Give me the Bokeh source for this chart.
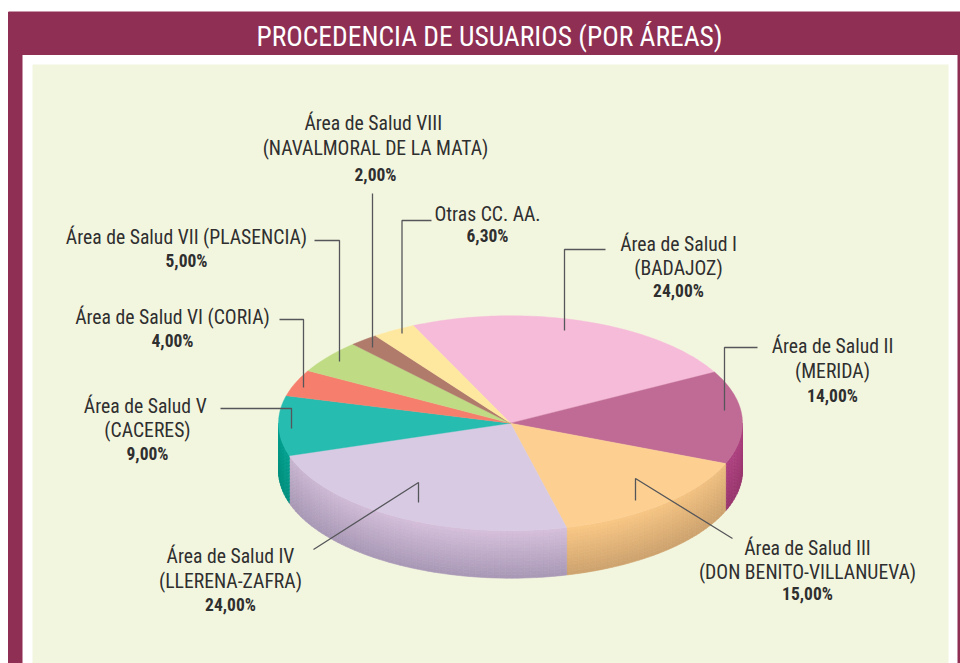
import numpy as np
from bokeh.plotting import figure
from bokeh.embed import file_html
from bokeh.resources import INLINE
from bokeh.models import Range1d

# ---- data ----
title = "PROCEDENCIA DE USUARIOS (POR ÁREAS)"
slices = ["Área I", "Área II", "Área III", "Área IV", "Área V", "Área VI", "Área VII", "Área VIII", "Otras"]
# angular share each slice occupies in the drawing, percent
shares = [24, 14, 15, 24, 9, 4, 5, 2, 3]
top_colors = ["#f6bbd8", "#c06b95", "#fdd092", "#d9cae4", "#27bcb0", "#f67e6c", "#bfdc85", "#b17b6c", "#fee8a0"]
wall_top = ["#f6bbd8", "#b8488a", "#fbc986", "#d6c0dc", "#03a899", "#f67e6c", "#bfdc85", "#b17b6c", "#fee8a0"]
wall_bottom = ["#f6bbd8", "#99366e", "#cda26e", "#a898b6", "#00917f", "#f67e6c", "#bfdc85", "#b17b6c", "#fee8a0"]

label_lines = [
    ["Área de Salud I", "(BADAJOZ)", "24,00%"],
    ["Área de Salud II", "(MERIDA)", "14,00%"],
    ["Área de Salud III", "(DON BENITO-VILLANUEVA)", "15,00%"],
    ["Área de Salud IV", "(LLERENA-ZAFRA)", "24,00%"],
    ["Área de Salud  V", "(CACERES)", "9,00%"],
    ["Área de Salud VI (CORIA)", "4,00%"],
    ["Área de Salud VII (PLASENCIA)", "5,00%"],
    ["Área de Salud  VIII", "(NAVALMORAL DE LA MATA)", "2,00%"],
    ["Otras CC. AA.", "6,30%"],
]

# ---- layout (in page pixels) ----
W, H = 960, 663
CX, CY, RX, RY, DEPTH = 510, 422.7, 232, 107.5, 47.5
START = 114.8

label_x = [678, 832, 807, 230, 147, 172, 186, 375, 487]
label_y = [
    [244, 268, 290],
    [346, 371, 395],
    [548, 572, 593],
    [556, 581, 604],
    [406, 430, 453],
    [317, 340],
    [237, 260],
    [123, 148, 174],
    [214, 235],
]
leaders = [
    ([605, 564, 564], [249, 249, 330]),
    ([757, 724, 724], [347, 347, 410]),
    ([732, 635, 635], [538, 478, 500]),
    ([313, 418, 418], [549, 482, 502]),
    ([220, 291, 291], [408, 408, 428]),
    ([279, 303, 303], [319, 319, 387]),
    ([314, 339, 339], [240, 240, 361]),
    ([372, 372], [193, 347]),
    ([431, 401.5, 401.5], [220, 220, 333]),
]

p = figure(width=W, height=H, output_backend="svg", toolbar_location=None,
           x_range=Range1d(0, W), y_range=Range1d(H, 0),
           min_border=0, outline_line_color=None, background_fill_color="white",
           border_fill_color="white")
p.axis.visible = False
p.grid.visible = False

FONT = "Roboto Condensed, Roboto"

# frame
MAROON = "#8e2f53"
p.quad(left=8, right=960, top=11.5, bottom=54, color=MAROON)
p.quad(left=8, right=21.5, top=54, bottom=663, color=MAROON)
p.quad(left=957.5, right=960, top=54, bottom=663, color=MAROON)
p.quad(left=32, right=948, top=64, bottom=663, fill_color="#f3f6df", fill_alpha=1.0, line_color=None)
p.text(x=[489], y=[36], text=[title], text_color="white", text_font_size="27.5px",
       text_align="center", text_baseline="middle", text_font={"value": FONT})

def hex2rgb(c):
    return np.array([int(c[i:i + 2], 16) for i in (1, 3, 5)], float)

def ex(t):
    return CX + RX * np.cos(np.radians(t))

def ey(t):
    return CY - RY * np.sin(np.radians(t))

fr = np.cumsum([0] + shares) / sum(shares)
bounds = START - 360 * fr

# side wall: small cells to carry the shading
xs, ys, cs = [], [], []
ROWS = 14
for i in range(len(shares)):
    a0, a1 = bounds[i], bounds[i + 1]
    lo, hi = max(a1, -180), min(a0, 0)
    if lo >= hi:
        continue
    n = max(2, int((hi - lo) / 1.5))
    ts = np.linspace(hi, lo, n + 1)
    ct, cb = hex2rgb(wall_top[i]), hex2rgb(wall_bottom[i])
    for j in range(n):
        tm = 0.5 * (ts[j] + ts[j + 1])
        edge = abs(np.cos(np.radians(tm))) ** 3
        for r in range(ROWS):
            d0, d1 = r / ROWS, (r + 1) / ROWS
            col = ct + (cb - ct) * ((r + 0.5) / ROWS + 0.35 * edge * (1 - (r + 0.5) / ROWS))
            col = np.clip(col, 0, 255).astype(int)
            xs.append([ex(ts[j]), ex(ts[j + 1]), ex(ts[j + 1]), ex(ts[j])])
            ys.append([ey(ts[j]) + DEPTH * d0, ey(ts[j + 1]) + DEPTH * d0,
                       ey(ts[j + 1]) + DEPTH * d1, ey(ts[j]) + DEPTH * d1])
            cs.append("#%02x%02x%02x" % tuple(col))
p.patches(xs, ys, fill_color=cs, line_color=cs, line_width=0.6, fill_alpha=1.0, line_alpha=1.0)

# top face
xs, ys = [], []
for i in range(len(shares)):
    n = max(3, int(abs(bounds[i] - bounds[i + 1])))
    ts = np.linspace(bounds[i], bounds[i + 1], n + 1)
    xs.append([CX] + list(ex(ts)))
    ys.append([CY] + list(ey(ts)))
p.patches(xs, ys, fill_color=top_colors, line_color=top_colors, line_width=0.4, fill_alpha=1.0)

# leaders
p.multi_line([l[0] for l in leaders], [l[1] for l in leaders], line_color="#55565a", line_width=1.3)

# labels
for x, lines, yy in zip(label_x, label_lines, label_y):
    for k, (s, y) in enumerate(zip(lines, yy)):
        bold = k == len(lines) - 1
        p.text(x=[x], y=[y], text=[s], text_color="#2f2f30",
               text_font_size="17.5px" if bold else "19.7px",
               text_font_style="bold" if bold else "normal",
               text_align="center", text_baseline="middle", text_font={"value": FONT})

open("out.html", "w").write(file_html(p, INLINE))
